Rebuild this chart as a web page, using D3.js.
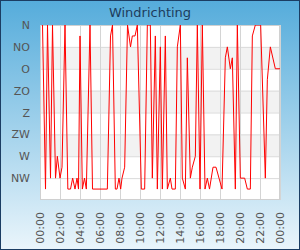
<!DOCTYPE html>
<html>
<head>
<meta charset="utf-8">
<script src="https://cdn.jsdelivr.net/npm/d3@7"></script>
<style>
  html, body { margin: 0; padding: 0; background: #fff; }
  svg { display: block; font-family: "DejaVu Sans", sans-serif; }
</style>
</head>
<body>
<svg id="chart" width="300" height="250"></svg>
<script>
// wind direction labels, top to bottom (0, 45, ... 315 degrees)
let directions = ['N', 'NO', 'O', 'ZO', 'Z', 'ZW', 'W', 'NW']
let dir_degrees = [0, 45, 90, 135, 180, 225, 270, 315]

// x tick labels, every 2 hours
let tick_minutes = [0, 120, 240, 360, 480, 600, 720, 840, 960, 1080, 1200, 1320, 1440]

// measured wind direction (time of day, degrees)
let times = ['00:15', '00:33', '00:45', '01:03', '01:15', '01:33', '01:44', '02:00', '02:12', '02:30',
    '02:47', '03:03', '03:16', '03:30', '03:42', '03:51', '04:00', '04:14', '04:27', '04:38',
    '05:00', '05:15', '06:44', '07:03', '07:15', '07:32', '07:42', '07:54', '08:04', '08:12',
    '08:28', '08:45', '09:03', '09:14', '09:30', '09:44', '10:08', '10:28', '10:44', '11:02',
    '11:14', '11:32', '11:44', '12:02', '12:14', '12:32', '12:44', '13:02', '13:12', '13:32',
    '13:44', '14:02', '14:14', '14:32', '14:44', '15:02', '15:14', '15:32', '15:44', '16:00',
    '16:14', '16:30', '16:44', '16:57', '17:18', '17:36', '17:54', '18:12', '18:32', '18:44',
    '19:02', '19:14', '19:32', '19:44', '20:02', '20:28', '20:44', '21:02', '21:14', '21:32',
    '22:04', '22:32', '22:44', '23:02', '23:32', '24:00']
let degrees = [0, 337.5, 0, 315, 0, 315, 270, 315, 292.5, 0,
    337.5, 337.5, 315, 337.5, 315, 337.5, 22.5, 337.5, 315, 337.5,
    0, 337.5, 337.5, 22.5, 0, 337.5, 337.5, 315, 337.5, 315,
    292.5, 0, 45, 22.5, 22.5, 0, 337.5, 337.5, 0, 0,
    315, 22.5, 337.5, 45, 337.5, 22.5, 337.5, 315, 337.5, 337.5,
    45, 0, 315, 337.5, 67.5, 315, 292.5, 270, 0, 337.5,
    0, 337.5, 315, 337.5, 292.5, 292.5, 315, 337.5, 67.5, 45,
    90, 67.5, 337.5, 0, 315, 315, 337.5, 337.5, 22.5, 0,
    0, 315, 112.5, 45, 90, 90]

let to_minutes = t => +t.slice(0, 2) * 60 + +t.slice(3, 5)
let data = times.map((t, i) => ({ t: to_minutes(t), v: degrees[i] }))

let width = 300
let height = 250
let plot = { 'l': 40, 'r': 280, 't': 25, 'b': 200 }

let svg = d3.select('#chart')

let defs = svg.append('defs')
let grad = defs.append('linearGradient')
    .attr('id', 'bg')
    .attr('x1', 0).attr('y1', 0).attr('x2', 0).attr('y2', 1)
grad.append('stop').attr('offset', '0%').attr('stop-color', '#55acdb')
grad.append('stop').attr('offset', '100%').attr('stop-color', '#eaf5fb')

defs.append('clipPath').attr('id', 'clip')
    .append('rect')
    .attr('x', plot.l).attr('y', plot.t)
    .attr('width', plot.r - plot.l).attr('height', plot.b - plot.t)

svg.append('rect')
    .attr('x', 0.5).attr('y', 0.5)
    .attr('width', width - 1).attr('height', height - 1)
    .attr('fill', 'url(#bg)')
    .attr('stroke', '#1b3d63')

svg.append('text')
    .attr('x', width / 2)
    .attr('y', 16.5)
    .attr('text-anchor', 'middle')
    .attr('font-size', 13)
    .attr('fill', '#1d3c5c')
    .text('Windrichting')

let x = d3.scaleLinear().domain([0, 1440]).range([plot.l, plot.r])
let y = d3.scaleLinear().domain([0, 360]).range([plot.t, plot.b])

// plot background
svg.append('rect')
    .attr('x', plot.l).attr('y', plot.t)
    .attr('width', plot.r - plot.l).attr('height', plot.b - plot.t)
    .attr('fill', '#fff')

// alternating bands
svg.selectAll('rect.band')
    .data([45, 135, 225])
    .enter()
    .append('rect')
    .classed('band', true)
    .attr('x', plot.l)
    .attr('y', d => y(d))
    .attr('width', plot.r - plot.l)
    .attr('height', d => y(d + 45) - y(d))
    .attr('fill', '#f2f2f2')

// horizontal grid + labels
let yAxis = d3.axisLeft(y)
    .tickValues(dir_degrees)
    .tickFormat((d, i) => directions[i])
    .tickSize(-(plot.r - plot.l))
    .tickPadding(10)

let gy = svg.append('g')
    .attr('transform', `translate(${plot.l},0)`)
    .call(yAxis)
gy.select('.domain').remove()
gy.selectAll('line').attr('stroke', '#dadada')
gy.selectAll('text')
    .attr('font-size', 11)
    .attr('font-family', '"DejaVu Sans", sans-serif')
    .attr('fill', '#555')

// vertical grid + time labels
let fmt = m => d3.format('02')(Math.floor(m / 60) % 24) + ':' + d3.format('02')(m % 60)
let xAxis = d3.axisBottom(x)
    .tickValues(tick_minutes)
    .tickFormat(fmt)
    .tickSize(-(plot.b - plot.t))
    .tickPadding(0)

let gx = svg.append('g')
    .attr('transform', `translate(0,${plot.b})`)
    .call(xAxis)
gx.select('.domain').remove()
gx.selectAll('line').attr('stroke', '#d4d4d4')
gx.selectAll('text')
    .attr('font-size', 11)
    .attr('font-family', '"DejaVu Sans", sans-serif')
    .attr('fill', '#555')
    .attr('text-anchor', 'end')
    .attr('transform', 'translate(0,12) rotate(-90)')
    .attr('x', 0)
    .attr('y', 0)
    .attr('dy', '0.35em')

// plot border
svg.append('rect')
    .attr('x', plot.l + 0.5).attr('y', plot.t + 0.5)
    .attr('width', plot.r - plot.l - 1).attr('height', plot.b - plot.t - 1)
    .attr('fill', 'none')
    .attr('stroke', '#d0d0d0')

let line = d3.line()
    .x(d => x(d.t))
    .y(d => y(d.v))

svg.append('path')
    .datum(data)
    .attr('clip-path', 'url(#clip)')
    .attr('fill', 'none')
    .attr('stroke', '#ff0000')
    .attr('stroke-width', 1)
    .attr('d', line)
</script>
</body>
</html>
